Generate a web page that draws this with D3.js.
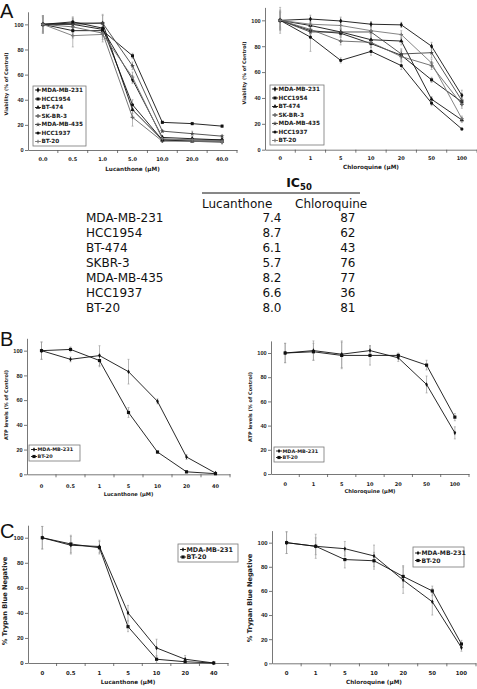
<!DOCTYPE html>
<html><head><meta charset="utf-8">
<script src="https://cdn.jsdelivr.net/npm/d3@7"></script>
<style>
body{margin:0;background:#fff;}
svg{display:block;}
</style></head><body>
<svg id="fig" width="477" height="689"></svg>
<script>
// ---------- categories / tick labels ----------
const lucDosesA = ["0.0","0.5","1.0","5.0","10.0","20.0","40.0"];
const lucDoses = ["0","0.5","1","5","10","20","40"];
const cqDoses = ["0","1","5","10","20","50","100"];
const yTicks = [0,20,40,60,80,100];

const cellLinesA = ["MDA-MB-231","HCC1954","BT-474","SK-BR-3","MDA-MB-435","HCC1937","BT-20"];
const cellLinesBC = ["MDA-MB-231","BT-20"];

// ---------- Panel A: viability, lucanthone ----------
const aLucMDA231 = [100,100,96,56,10,9,8];
const aLucHCC1954 = [100,95,95,75,22,21,19];
const aLucBT474 = [100,101,101,32,8,7,7];
const aLucSKBR3 = [100,98,93,26,7,7,6];
const aLucMDA435 = [100,100,101,67,15,13,11];
const aLucHCC1937 = [100,102,97,36,8,8,8];
const aLucBT20 = [100,91,92,58,9,8,7];
const aLucErr = [[6,4,5,3,1,1,1],[7,6,5,2,1,1,1],[6,4,7,3,1,1,1],[7,5,5,7,1,1,1],[5,5,6,3,1,2,1],[6,4,5,4,1,1,1],[7,9,6,4,1,1,1]];

// ---------- Panel A: viability, chloroquine ----------
const aCqMDA231 = [100,101,99.5,97,96.5,80,42];
const aCqHCC1954 = [100,92,90,82,73,54,37];
const aCqBT474 = [100,96,91,85,84,39,23];
const aCqSKBR3 = [100,93,84,83,72,65,35];
const aCqMDA435 = [100,91,91,91,74,75,38];
const aCqHCC1937 = [100,87,69,76,65,36,16];
const aCqBT20 = [100,97,96,92,89,67,24];
const aCqErr = [[10,3,3,2,2,3,4],[6,4,3,3,4,2,3],[5,3,3,3,3,2,2],[7,4,3,3,4,3,3],[6,4,3,4,4,4,3],[8,11,2,3,3,2,1],[7,4,3,3,3,3,2]];

// ---------- Panel B: ATP ----------
const bLucMDA231 = [100,93,96,83,59,14,1];
const bLucBT20 = [100,101,92,50,18,2,0.5];
const bLucErr = [[7,2,8,10,2,2,0.5],[7,2,5,4,1,1,0.5]];
const bCqMDA231 = [100,102,99,102,96,74,34];
const bCqBT20 = [100,101,98,98,98,90,47];
const bCqErr = [[8,8,11,4,3,7,5],[8,7,11,8,2,4,3]];

// ---------- Panel C: trypan blue ----------
const cLucMDA231 = [100,94,93,40,12,3,0];
const cLucBT20 = [100,95,92,29,3,1,0];
const cLucErr = [[9,7,5,6,7,3,0.5],[9,7,5,4,3,1,0.5]];
const cCqMDA231 = [100,97,95,89,69,51,13];
const cCqBT20 = [100,97,86,85,72,60,16];
const cCqErr = [[9,10,6,9,11,11,3],[9,7,7,7,9,4,3]];

// ---------- IC50 table ----------
const ic50Lines = ["MDA-MB-231","HCC1954","BT-474","SKBR-3","MDA-MB-435","HCC1937","BT-20"];
const ic50Lucanthone = ["7.4","8.7","6.1","5.7","8.2","6.6","8.0"];
const ic50Chloroquine = ["87","62","43","76","77","36","81"];

// ---------- styles ----------
const styles7 = [
  {sym:d3.symbolDiamond, size:8, color:"#111"},
  {sym:d3.symbolSquare, size:9, color:"#111"},
  {sym:d3.symbolTriangle, size:8, color:"#111"},
  {sym:d3.symbolCross, size:8, color:"#666"},
  {sym:d3.symbolStar, size:7, color:"#444"},
  {sym:d3.symbolCircle, size:8, color:"#111"},
  {sym:d3.symbolCross, size:7, color:"#777"}
];
const styles2 = [
  {sym:d3.symbolDiamond, size:6, color:"#111"},
  {sym:d3.symbolSquare, size:10, color:"#111"}
];

const svg = d3.select("#fig");
const FONT = "DejaVu Sans, Verdana, sans-serif";
const NARROW = "Liberation Sans, Arial, sans-serif";

function drawPanel(p){
  const g = svg.append("g");
  const x = d3.scaleBand().domain(p.cats).range(p.xr);
  const y = d3.scaleLinear().domain([0,110]).range(p.yr);
  const cx = c => x(c) + x.bandwidth()/2;

  // y axis
  const ya = g.append("g").attr("transform",`translate(${p.xr[0]},0)`)
    .call(d3.axisLeft(y).tickValues(yTicks).tickSize(3).tickSizeOuter(0).tickPadding(1.4));
  ya.selectAll("text").attr("font-family",NARROW).attr("font-weight","bold").attr("font-size",p.tickFs+0.6).attr("fill","#222");
  ya.select(".domain").attr("stroke","#555").attr("stroke-width",0.8);
  ya.selectAll(".tick line").attr("stroke","#555").attr("stroke-width",0.8);

  // x axis
  const xa = g.append("g").attr("transform",`translate(0,${y(0)})`)
    .call(d3.axisBottom(x).tickSize(0).tickSizeOuter(0));
  xa.selectAll("text").attr("y",p.tickDy).attr("dy","0.35em")
    .attr("font-family",FONT).attr("font-weight","bold").attr("font-size",p.tickFs).attr("fill","#222");
  xa.select(".domain").attr("stroke","#555").attr("stroke-width",0.8);
  // category-boundary ticks
  const bounds = p.cats.slice(1).map(c => x(c)).concat([p.xr[1]]);
  xa.selectAll(".btick").data(bounds).join("line")
    .attr("x1",d=>d).attr("x2",d=>d).attr("y1",0).attr("y2",3)
    .attr("stroke","#555").attr("stroke-width",0.8);

  // axis titles
  g.append("text").attr("x",(p.xr[0]+p.xr[1])/2).attr("y",p.xTitleY).attr("dy","0.35em")
    .attr("text-anchor","middle").attr("font-family",FONT).attr("font-weight","bold")
    .attr("font-size",p.titleFs).attr("fill","#222").text(p.xTitle);
  g.append("text").attr("transform",`translate(${p.yTitleX},${p.yTitleY}) rotate(-90)`)
    .attr("dy","0.35em").attr("text-anchor","middle").attr("font-family",FONT).attr("font-weight","bold")
    .attr("font-size",p.yTitleFs).attr("fill","#222").text(p.yTitle);

  // error bars
  p.series.forEach((s,i)=>{
    const eg = g.append("g");
    s.forEach((v,j)=>{
      const e = p.errs[i][j];
      const xx = cx(p.cats[j]);
      eg.append("line").attr("x1",xx).attr("x2",xx).attr("y1",y(v-e)).attr("y2",y(v+e))
        .attr("stroke","#999").attr("stroke-width",0.7);
      [v-e,v+e].forEach(t=>eg.append("line").attr("x1",xx-1).attr("x2",xx+1).attr("y1",y(t)).attr("y2",y(t))
        .attr("stroke","#999").attr("stroke-width",0.6));
    });
  });
  // lines and markers
  const line = d3.line().x((d,j)=>cx(p.cats[j])).y(d=>y(d));
  p.series.forEach((s,i)=>{
    const st = p.styles[i];
    g.append("path").attr("d",line(s)).attr("fill","none").attr("stroke",st.color).attr("stroke-width",0.9);
    g.selectAll(null).data(s).join("path")
      .attr("transform",(d,j)=>`translate(${cx(p.cats[j])},${y(d)})`)
      .attr("d",d3.symbol().type(st.sym).size(st.size)).attr("fill",st.color);
  });

  // legend
  const L = p.legend;
  g.append("rect").attr("x",L.x0).attr("y",L.y0).attr("width",L.x1-L.x0).attr("height",L.y1-L.y0)
    .attr("fill","#fff").attr("stroke","#777").attr("stroke-width",0.8);
  p.names.forEach((n,i)=>{
    const yy = L.rows[i]; const st = p.styles[i];
    g.append("line").attr("x1",L.x0+2).attr("x2",L.x0+L.sw).attr("y1",yy).attr("y2",yy)
      .attr("stroke",st.color).attr("stroke-width",0.9);
    g.append("path").attr("transform",`translate(${L.x0+2+(L.sw-2)/2},${yy})`)
      .attr("d",d3.symbol().type(st.sym).size(st.size)).attr("fill",st.color);
    g.append("text").attr("x",L.x0+L.sw+0.5).attr("y",yy).attr("dy","0.35em")
      .attr("font-family",FONT).attr("font-weight","bold").attr("font-size",L.fs).attr("fill","#222").text(n);
  });
}

// Panel A left
drawPanel({cats:lucDosesA, xr:[28,237], yr:[150,11.8], tickFs:5, tickDy:9, titleFs:5.7, yTitleFs:4.9,
  xTitle:"Lucanthone (μM)", xTitleY:169, yTitle:"Viability (% of Control)", yTitleX:6, yTitleY:84,
  series:[aLucMDA231,aLucHCC1954,aLucBT474,aLucSKBR3,aLucMDA435,aLucHCC1937,aLucBT20], errs:aLucErr,
  styles:styles7, names:cellLinesA,
  legend:{x0:33,x1:86,y0:86,y1:146,sw:8,fs:5.7,rows:[90,99,107.5,116,124.5,133,141.5]}});
// Panel A right
drawPanel({cats:cqDoses, xr:[265,477], yr:[149.7,7.4], tickFs:5, tickDy:9, titleFs:5.7, yTitleFs:4.9,
  xTitle:"Chloroquine (μM)", xTitleY:167, yTitle:"Viability (% of Control)", yTitleX:244.5, yTitleY:73,
  series:[aCqMDA231,aCqHCC1954,aCqBT474,aCqSKBR3,aCqMDA435,aCqHCC1937,aCqBT20], errs:aCqErr,
  styles:styles7, names:cellLinesA,
  legend:{x0:270,x1:324,y0:85,y1:145,sw:8,fs:5.7,rows:[89,98,106.5,115,123.5,132,140.5]}});
// Panel B left
drawPanel({cats:lucDoses, xr:[27,230], yr:[474.3,338.3], tickFs:5, tickDy:11.5, titleFs:5.2, yTitleFs:5,
  xTitle:"Lucanthone (μM)", xTitleY:494, yTitle:"ATP levels (% of Control)", yTitleX:6, yTitleY:405,
  series:[bLucMDA231,bLucBT20], errs:bLucErr, styles:styles2, names:cellLinesBC,
  legend:{x0:29,x1:80,y0:445,y1:461,sw:8,fs:4.9,rows:[449.5,456.5]}});
// Panel B right
drawPanel({cats:cqDoses, xr:[271,469], yr:[474,340.9], tickFs:5, tickDy:10, titleFs:5.2, yTitleFs:5,
  xTitle:"Chloroquine (μM)", xTitleY:491, yTitle:"ATP levels (% of Control)", yTitleX:250, yTitleY:407,
  series:[bCqMDA231,bCqBT20], errs:bCqErr, styles:styles2, names:cellLinesBC,
  legend:{x0:274,x1:324,y0:447,y1:462,sw:8,fs:4.9,rows:[451,457.5]}});
// Panel C left
drawPanel({cats:lucDoses, xr:[28,228], yr:[663,525.2], tickFs:5.4, tickDy:10, titleFs:5.7, yTitleFs:6.6,
  xTitle:"Lucanthone (μM)", xTitleY:682, yTitle:"% Trypan Blue Negative", yTitleX:5, yTitleY:601,
  series:[cLucMDA231,cLucBT20], errs:cLucErr, styles:styles2, names:cellLinesBC,
  legend:{x0:178,x1:238,y0:544,y1:562,sw:8,fs:6.4,rows:[549.5,557]}});
// Panel C right
drawPanel({cats:cqDoses, xr:[272,476], yr:[663.3,530.6], tickFs:5.4, tickDy:9.5, titleFs:5.7, yTitleFs:6.6,
  xTitle:"Chloroquine (μM)", xTitleY:682, yTitle:"% Trypan Blue Negative", yTitleX:250, yTitleY:598,
  series:[cCqMDA231,cCqBT20], errs:cCqErr, styles:styles2, names:cellLinesBC,
  legend:{x0:413,x1:464,y0:547,y1:567,sw:8,fs:6.1,rows:[553,560.5]}});

// Panel letters
[["A",18],["B",346],["C",538]].forEach(([t,yy])=>{
  svg.append("text").attr("x",0).attr("y",yy).attr("font-family","Liberation Sans, Arial, sans-serif")
    .attr("font-size",20).attr("fill","#111").text(t);
});

// IC50 table
const tf = "DejaVu Sans, Verdana, sans-serif";
const ic = svg.append("text").attr("x",299).attr("y",187).attr("text-anchor","middle")
  .attr("font-family",tf).attr("font-weight","bold").attr("font-size",12.5).attr("fill","#111");
ic.append("tspan").text("IC");
ic.append("tspan").attr("font-size",8.5).attr("dy",3).text("50");
svg.append("line").attr("x1",202).attr("x2",360).attr("y1",193).attr("y2",193).attr("stroke","#111").attr("stroke-width",1);
svg.append("text").attr("x",202).attr("y",208).attr("font-family",tf).attr("font-size",12).attr("fill","#111").text("Lucanthone");
svg.append("text").attr("x",295).attr("y",208).attr("font-family",tf).attr("font-size",12).attr("fill","#111").text("Chloroquine");
ic50Lines.forEach((n,i)=>{
  const yy = 222 + i*15;
  svg.append("text").attr("x",86).attr("y",yy).attr("font-family",tf).attr("font-size",12).attr("fill","#111").text(n);
  svg.append("text").attr("x",281.5).attr("y",yy).attr("text-anchor","end").attr("font-family",tf).attr("font-size",12).attr("fill","#111").text(ic50Lucanthone[i]);
  svg.append("text").attr("x",355.5).attr("y",yy).attr("text-anchor","end").attr("font-family",tf).attr("font-size",12).attr("fill","#111").text(ic50Chloroquine[i]);
});
</script></body></html>
